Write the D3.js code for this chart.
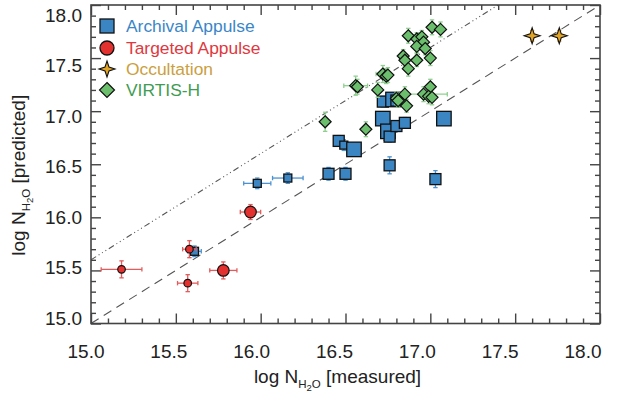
<!DOCTYPE html>
<html><head><meta charset="utf-8">
<script src="https://cdn.jsdelivr.net/npm/d3@7"></script>
<style>body{margin:0;background:#fff}svg{display:block}text{font-family:"Liberation Sans",Arial,Helvetica,sans-serif}</style>
</head><body><svg id="c" width="622" height="400"></svg>
<script>
// ---- data ----
const xDomain = [15, 18];
const yDomain = [15, 18];
const tickLabels = ["15.0","15.5","16.0","16.5","17.0","17.5","18.0"];
const legendLabels = ["Archival Appulse","Targeted Appulse","Occultation","VIRTIS-H"];

const archX    = [15.61,15.98,16.16,16.40,16.50,16.46,16.49,16.55,16.72,16.75,16.76,16.80,16.85,16.72,16.78,16.80,16.76,17.08,17.03];
const archY    = [15.68,16.32,16.37,16.41,16.41,16.72,16.68,16.64,16.93,16.81,16.76,16.86,16.89,17.09,17.11,17.10,16.49,16.93,16.36];
const archXerr = [0.04,0.08,0.09,0.02,0.02,0.02,0.01,0.01,0.01,0.01,0.01,0.01,0.01,0.01,0.01,0.01,0.01,0.01,0.01];
const archYerr = [0.05,0.05,0.05,0.06,0.06,0.05,0.05,0.05,0.05,0.05,0.05,0.05,0.05,0.05,0.05,0.04,0.08,0.05,0.08];
const archWt   = [1,1,1,2,2,2,1,3,3,3,2,2,2,2,3,2,2,3,2];

const targX    = [15.18,15.58,15.57,15.78,15.94];
const targY    = [15.51,15.70,15.38,15.50,16.05];
const targXerr = [0.12,0.04,0.06,0.08,0.06];
const targYerr = [0.08,0.08,0.08,0.08,0.07];
const targWt   = [1,1,1,2,2];

const occX    = [17.60,17.76];
const occY    = [17.71,17.71];
const occXerr = [0,0];
const occYerr = [0.05,0.05];

const virX    = [17.01,17.06,16.87,16.92,16.95,16.96,16.92,16.97,16.84,16.85,16.92,17.00,16.87,16.72,16.74,16.75,16.56,16.57,16.69,16.85,16.80,16.81,16.86,17.00,16.96,16.99,17.01,16.38,16.62];
const virY    = [17.79,17.77,17.71,17.68,17.70,17.65,17.61,17.59,17.52,17.48,17.48,17.50,17.40,17.35,17.33,17.34,17.24,17.23,17.20,17.16,17.12,17.10,17.05,17.23,17.16,17.14,17.13,16.90,16.83];
const virXerr = [0.01,0.01,0.02,0.02,0.01,0.01,0.01,0.01,0.01,0.01,0.01,0.01,0.01,0.04,0.02,0.02,0.07,0.02,0.01,0.01,0.01,0.01,0.01,0.01,0.14,0.01,0.01,0.01,0.01];
const virYerr = [0.07,0.07,0.07,0.06,0.06,0.06,0.06,0.06,0.06,0.06,0.06,0.07,0.07,0.08,0.07,0.07,0.09,0.07,0.07,0.07,0.06,0.06,0.06,0.07,0.07,0.07,0.07,0.09,0.07];

const offsetLine = 0.6;

// ---- layout ----
const svg = d3.select("#c");
const L = 91, R = 600, T = 5, B = 323.5;
const x = d3.scaleLinear().domain(xDomain).range([L, R]);
const y = d3.scaleLinear().domain(yDomain).range([B, T]);
// label placement scales (labels sit slightly inside the frame, as in the reference)
const xLab = d3.scaleLinear().domain(xDomain).range([86, 583]);
const yLab = d3.scaleLinear().domain(yDomain).range([318, 15]);

const colors = {
  arch:{fill:"#3a85c2", err:"#4a93d2", text:"#3a86c8"},
  targ:{fill:"#e3312f", err:"#e35b5b", text:"#e03840"},
  occ:{fill:"#e0a426", err:"#e8b050", text:"#cba03e"},
  vir:{fill:"#6abe6c", err:"#8fd08f", text:"#3f9c52"}
};

// reference lines
svg.append("clipPath").attr("id","pc").append("rect")
  .attr("x",L).attr("y",T).attr("width",R-L).attr("height",B-T);
const gl = svg.append("g").attr("clip-path","url(#pc)");
gl.append("line").attr("x1",x(15)).attr("y1",y(15)).attr("x2",x(18)).attr("y2",y(18))
  .attr("stroke","#555").attr("stroke-width",1.1).attr("stroke-dasharray","9,6");
gl.append("line").attr("x1",x(15)).attr("y1",y(15+offsetLine)).attr("x2",x(18-offsetLine)).attr("y2",y(18))
  .attr("stroke","#555").attr("stroke-width",1.1).attr("stroke-dasharray","6,3,1,3,1,3,1,3");

// axes frame and ticks
const frame = svg.append("g");
const fc = "#444";
function addAxis(axis, transform){
  const g = frame.append("g").attr("transform",transform).call(axis);
  g.select(".domain").remove();
  g.selectAll("line").attr("stroke",fc).attr("stroke-width",1.4);
  return g;
}
const major = d3.range(15, 18.01, 0.5);
const minor = d3.range(15, 18.001, 0.1).filter(v => Math.abs(v*2 - Math.round(v*2)) > 0.01);
[[`translate(0,${B})`,d3.axisTop],[`translate(0,${T})`,d3.axisBottom]].forEach(([tr,fn])=>{
  addAxis(fn(x).tickValues(major).tickSize(10).tickFormat(""), tr);
  addAxis(fn(x).tickValues(minor).tickSize(5).tickFormat(""), tr);
});
[[`translate(${L},0)`,d3.axisRight],[`translate(${R},0)`,d3.axisLeft]].forEach(([tr,fn])=>{
  addAxis(fn(y).tickValues(major).tickSize(10).tickFormat(""), tr);
  addAxis(fn(y).tickValues(minor).tickSize(5).tickFormat(""), tr);
});
frame.append("rect").attr("x",L).attr("y",T).attr("width",R-L).attr("height",B-T)
  .attr("fill","none").attr("stroke",fc).attr("stroke-width",1.6);

// tick labels
const fs = 19;
svg.append("g").selectAll("text").data(major).join("text")
  .attr("x",d=>xLab(d)).attr("y",358).attr("text-anchor","middle")
  .attr("font-size",fs).attr("fill","#222").text((d,i)=>tickLabels[i]);
svg.append("g").selectAll("text").data(major).join("text")
  .attr("x",82).attr("y",d=>yLab(d)).attr("dy","0.36em").attr("text-anchor","end")
  .attr("font-size",fs).attr("fill","#222").text((d,i)=>tickLabels[i]);

// axis titles
function title(g, suffix){
  const t = g.append("text").attr("font-size",fs).attr("fill","#222").attr("text-anchor","middle");
  t.append("tspan").text("log N");
  t.append("tspan").attr("font-size",11.5).attr("dy",5).text("H");
  t.append("tspan").attr("font-size",9.5).attr("dy",3).text("2");
  t.append("tspan").attr("font-size",11.5).attr("dy",-3).text("O");
  t.append("tspan").attr("dy",-5).text(" " + suffix);
  return t;
}
title(svg.append("g").attr("transform",`translate(${(L+R)/2-8},383)`), "[measured]");
title(svg.append("g").attr("transform",`translate(25,${(T+B)/2+11}) rotate(-90)`), "[predicted]");

// markers
const sqSize = d3.scaleOrdinal().domain([1,2,3]).range([8,11,14.5]);
const cirR = d3.scaleOrdinal().domain([1,2]).range([3.8,5.8]);

function errBars(g, xs, ys, xe, ye, col){
  const cap = 2.2;
  xs.forEach((xv,i)=>{
    const cx = x(xv), cy = y(ys[i]);
    const gg = g.append("g").attr("stroke",col).attr("stroke-width",1.3);
    if (ye[i] > 0){
      gg.append("line").attr("x1",cx).attr("x2",cx).attr("y1",y(ys[i]-ye[i])).attr("y2",y(ys[i]+ye[i]));
      gg.append("line").attr("x1",cx-cap).attr("x2",cx+cap).attr("y1",y(ys[i]-ye[i])).attr("y2",y(ys[i]-ye[i]));
      gg.append("line").attr("x1",cx-cap).attr("x2",cx+cap).attr("y1",y(ys[i]+ye[i])).attr("y2",y(ys[i]+ye[i]));
    }
    if (xe[i] > 0){
      gg.append("line").attr("y1",cy).attr("y2",cy).attr("x1",x(xv-xe[i])).attr("x2",x(xv+xe[i]));
      gg.append("line").attr("y1",cy-cap).attr("y2",cy+cap).attr("x1",x(xv-xe[i])).attr("x2",x(xv-xe[i]));
      gg.append("line").attr("y1",cy-cap).attr("y2",cy+cap).attr("x1",x(xv+xe[i])).attr("x2",x(xv+xe[i]));
    }
  });
}
function starPath(r){
  const ri = r*0.35, pts=[];
  for(let k=0;k<8;k++){
    const a = -Math.PI/2 + k*Math.PI/4, rr = k%2===0 ? r : ri;
    pts.push([rr*Math.cos(a), rr*Math.sin(a)]);
  }
  return "M"+pts.map(p=>p.join(",")).join("L")+"Z";
}
function diamondPath(h){ return `M0,${-h}L${h},0L0,${h}L${-h},0Z`; }

const gm = svg.append("g");
const ga = gm.append("g");
errBars(ga, archX, archY, archXerr, archYerr, colors.arch.err);
ga.selectAll("rect.m").data(archX).join("rect").attr("class","m")
  .attr("x",(d,i)=>x(d)-sqSize(archWt[i])/2).attr("y",(d,i)=>y(archY[i])-sqSize(archWt[i])/2)
  .attr("width",(d,i)=>sqSize(archWt[i])).attr("height",(d,i)=>sqSize(archWt[i]))
  .attr("fill",colors.arch.fill).attr("stroke","#111").attr("stroke-width",1.3);
const gt = gm.append("g");
errBars(gt, targX, targY, targXerr, targYerr, colors.targ.err);
gt.selectAll("circle").data(targX).join("circle")
  .attr("cx",d=>x(d)).attr("cy",(d,i)=>y(targY[i])).attr("r",(d,i)=>cirR(targWt[i]))
  .attr("fill",colors.targ.fill).attr("stroke","#111").attr("stroke-width",1.2);
const gv = gm.append("g");
errBars(gv, virX, virY, virXerr, virYerr, colors.vir.err);
gv.selectAll("path").data(virX).join("path")
  .attr("transform",(d,i)=>`translate(${x(d)},${y(virY[i])})`).attr("d",diamondPath(6))
  .attr("fill",colors.vir.fill).attr("stroke","#111").attr("stroke-width",1.2);
const go = gm.append("g");
errBars(go, occX, occY, occXerr, occYerr, colors.occ.err);
go.selectAll("path").data(occX).join("path")
  .attr("transform",(d,i)=>`translate(${x(d)},${y(occY[i])})`).attr("d",starPath(8))
  .attr("fill",colors.occ.fill).attr("stroke","#111").attr("stroke-width",1.1);

// legend
const lg = svg.append("g");
const ly = [26,48,69,90];
const keys = ["arch","targ","occ","vir"];
keys.forEach((k,i)=>{
  const g = lg.append("g").attr("transform",`translate(107,${ly[i]})`);
  if(k==="arch") g.append("rect").attr("x",-7).attr("y",-7).attr("width",14).attr("height",14)
    .attr("fill",colors.arch.fill).attr("stroke","#111").attr("stroke-width",1.3);
  if(k==="targ") g.append("circle").attr("r",7).attr("fill",colors.targ.fill).attr("stroke","#111").attr("stroke-width",1.3);
  if(k==="occ") g.append("path").attr("d",starPath(8)).attr("fill",colors.occ.fill).attr("stroke","#111").attr("stroke-width",1.1);
  if(k==="vir") g.append("path").attr("d",diamondPath(7.5)).attr("fill",colors.vir.fill).attr("stroke","#111").attr("stroke-width",1.2);
  lg.append("text").attr("x",126).attr("y",ly[i]).attr("dy","0.36em").attr("font-size",17.4)
    .attr("fill",colors[k].text).text(legendLabels[i]);
});
</script></body></html>
